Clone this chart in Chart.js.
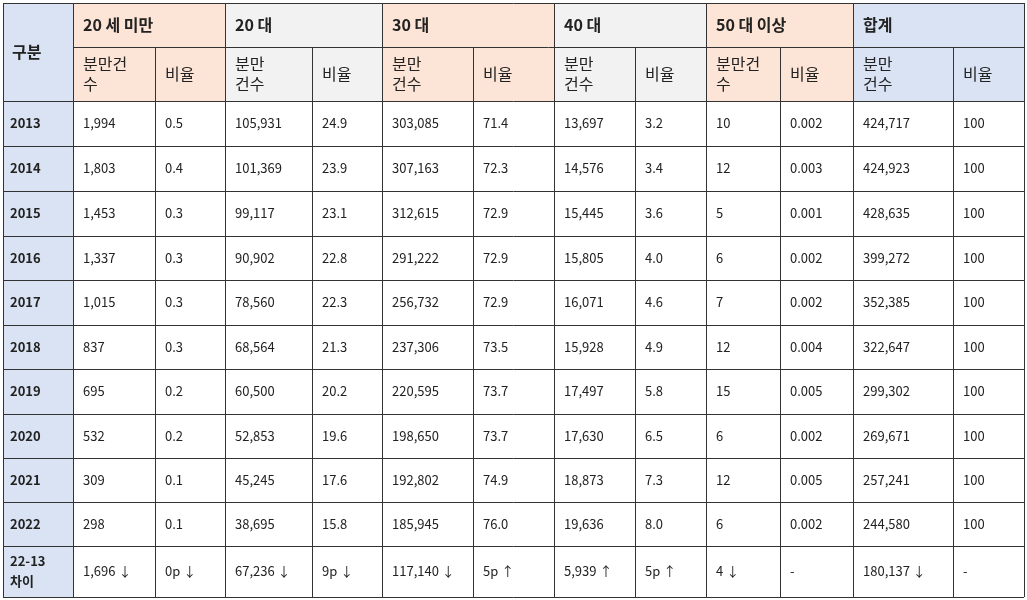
<!DOCTYPE html>
<html><head><meta charset="utf-8">
<script src="https://cdn.jsdelivr.net/npm/chart.js@4/dist/chart.umd.min.js"></script>
<style>body{margin:0;background:#fff}canvas{display:block}</style>
</head><body>
<canvas id="c" width="1027" height="600"></canvas>
<script>
const groups = ["20 세 미만","20 대","30 대","40 대","50 대 이상","합계"];
const subHeaders = [["분만건","수"],["비율"],["분만","건수"],["비율"],["분만","건수"],["비율"],["분만","건수"],["비율"],["분만건","수"],["비율"],["분만","건수"],["비율"]];
const years = ["2013","2014","2015","2016","2017","2018","2019","2020","2021","2022"];
const under20 = [["1,994","0.5"],["1,803","0.4"],["1,453","0.3"],["1,337","0.3"],["1,015","0.3"],["837","0.3"],["695","0.2"],["532","0.2"],["309","0.1"],["298","0.1"]];
const age20 = [["105,931","24.9"],["101,369","23.9"],["99,117","23.1"],["90,902","22.8"],["78,560","22.3"],["68,564","21.3"],["60,500","20.2"],["52,853","19.6"],["45,245","17.6"],["38,695","15.8"]];
const age30 = [["303,085","71.4"],["307,163","72.3"],["312,615","72.9"],["291,222","72.9"],["256,732","72.9"],["237,306","73.5"],["220,595","73.7"],["198,650","73.7"],["192,802","74.9"],["185,945","76.0"]];
const age40 = [["13,697","3.2"],["14,576","3.4"],["15,445","3.6"],["15,805","4.0"],["16,071","4.6"],["15,928","4.9"],["17,497","5.8"],["17,630","6.5"],["18,873","7.3"],["19,636","8.0"]];
const age50 = [["10","0.002"],["12","0.003"],["5","0.001"],["6","0.002"],["7","0.002"],["12","0.004"],["15","0.005"],["6","0.002"],["12","0.005"],["6","0.002"]];
const total = [["424,717","100"],["424,923","100"],["428,635","100"],["399,272","100"],["352,385","100"],["322,647","100"],["299,302","100"],["269,671","100"],["257,241","100"],["244,580","100"]];
const diffLabel = ["22-13","차이"];
const diffRow = ["1,696 ↓","0p ↓","67,236 ↓","9p ↓","117,140 ↓","5p ↑","5,939 ↑","5p ↑","4 ↓","-","180,137 ↓","-"];

const colEdges=[3,73,155,225,312,382,473,554,635,706,780,853,953,1024];
const rowEdges=[3,47,101,146,191,236,280,325,369,414,458,502,546,597];
const groupColors=["#fce4d6","#f2f2f2","#fce4d6","#f2f2f2","#fce4d6","#dae3f3"];
const blue="#dae3f3";
const FONT='"Noto Sans CJK KR","Noto Sans",sans-serif';

const tablePlugin={id:'table',afterDraw(chart){
  const ctx=chart.ctx,X=chart.scales.x,Y=chart.scales.y;
  const px=v=>X.getPixelForValue(v),py=v=>Y.getPixelForValue(v);
  const rect=(x0,x1,y0,y1,fill)=>{ctx.fillStyle=fill;ctx.fillRect(px(x0),py(y0),px(x1)-px(x0),py(y1)-py(y0));};
  const text=(lines,x,y0,y1,font,color)=>{ctx.font=font;ctx.fillStyle=color||"#222";ctx.textBaseline="middle";ctx.textAlign="left";
    const lh=20,mid=(py(y0)+py(y1))/2,start=mid-(lines.length-1)*lh/2;
    lines.forEach((l,i)=>ctx.fillText(l,px(x),start+i*lh));};
  // backgrounds
  rect(colEdges[0],colEdges[1],rowEdges[0],rowEdges[13],blue);
  groups.forEach((g,i)=>rect(colEdges[1+2*i],colEdges[3+2*i],rowEdges[0],rowEdges[2],groupColors[i]));
  // text
  text(["구분"],12,rowEdges[0],rowEdges[2],'bold 16px '+FONT);
  groups.forEach((g,i)=>text([g],colEdges[1+2*i]+10,rowEdges[0],rowEdges[1],'bold 16px '+FONT));
  subHeaders.forEach((s,i)=>text(s,colEdges[1+i]+10,rowEdges[1],rowEdges[2],'16px '+FONT));
  const data=[under20,age20,age30,age40,age50,total];
  years.forEach((yr,r)=>{
    text([yr],10,rowEdges[2+r],rowEdges[3+r],'bold 13px '+FONT);
    data.forEach((d,g)=>{d[r].forEach((v,k)=>text([v],colEdges[1+2*g+k]+10,rowEdges[2+r],rowEdges[3+r],'13px '+FONT));});
  });
  text(diffLabel,10,rowEdges[12],rowEdges[13],'bold 13px '+FONT);
  diffRow.forEach((v,i)=>text([v],colEdges[1+i]+10,rowEdges[12],rowEdges[13],'13px '+FONT));
  // grid
  ctx.strokeStyle="#333";ctx.lineWidth=1;ctx.beginPath();
  const h=v=>Math.round(v)+0.5;
  rowEdges.forEach((y,i)=>{const xs=(i===1)?colEdges[1]:colEdges[0];ctx.moveTo(px(xs),h(py(y)));ctx.lineTo(px(colEdges[13]),h(py(y)));});
  colEdges.forEach((x,i)=>{const even=(i>=2&&i%2===0);const ys=even?rowEdges[1]:rowEdges[0];ctx.moveTo(h(px(x)),py(ys));ctx.lineTo(h(px(x)),py(rowEdges[13]));});
  ctx.stroke();
}};

new Chart(document.getElementById('c'),{
  type:'scatter',
  data:{datasets:[{data:[]}]},
  options:{responsive:false,animation:false,
    layout:{padding:0},
    plugins:{legend:{display:false},tooltip:{enabled:false}},
    scales:{x:{type:'linear',min:0,max:1027,display:false},y:{type:'linear',min:0,max:600,reverse:true,display:false}}},
  plugins:[tablePlugin]
});
</script>
</body></html>
